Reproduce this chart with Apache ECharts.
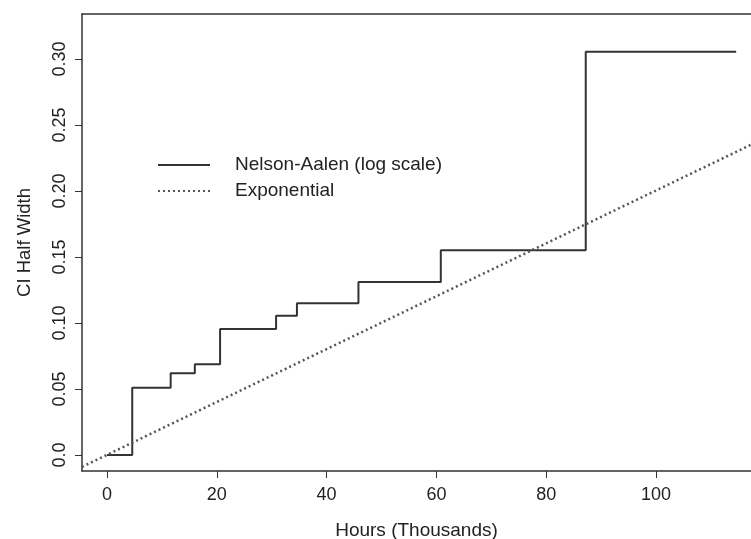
<!DOCTYPE html>
<html>
<head>
<meta charset="utf-8">
<script src="https://cdn.jsdelivr.net/npm/echarts@6/dist/echarts.min.js"></script>
<style>
  html, body { margin: 0; padding: 0; background: #fff; }
  #chart { width: 751px; height: 539px; }
</style>
</head>
<body>
<div id="chart"></div>
<script>
// 数据
const stepHours = [0, 4.6, 11.6, 16.0, 20.6, 30.8, 34.6, 45.8, 60.8, 87.2, 114.6]
const stepWidth = [0, 0.051, 0.062, 0.0687, 0.0955, 0.1055, 0.115, 0.131, 0.155, 0.3055, 0.3055]
const expHours = [-4.55, 117.3]
const expWidth = [-0.009, 0.235]
const xTicks = [0, 20, 40, 60, 80, 100]
const yTicks = [0, 0.05, 0.10, 0.15, 0.20, 0.25, 0.30]

const axisColor = '#333'
const font = 'Liberation Sans, Arial, sans-serif'

const mychart = echarts.init(document.getElementById('chart'))
const option = {
    backgroundColor: '#fff',
    animation: false,
    grid: { left: 82, top: 14, right: 0, bottom: 68, outerBoundsMode: 'none' },
    legend: {
        orient: 'vertical',
        left: 152,
        top: 150,
        itemWidth: 52,
        itemHeight: 14,
        itemGap: 6,
        itemStyle: { opacity: 0 },
        textStyle: { fontFamily: font, fontSize: 19, lineHeight: 20, color: '#222', padding: [0, 0, 0, 20] },
        data: ['Nelson-Aalen (log scale)', 'Exponential']
    },
    xAxis: [{
        type: 'value',
        min: -4.55,
        max: 117.3,
        name: 'Hours (Thousands)',
        nameLocation: 'middle',
        nameGap: 50,
        nameTextStyle: { fontFamily: font, fontSize: 19, color: '#222' },
        splitLine: { show: false },
        axisLine: { show: true, onZero: false, lineStyle: { color: axisColor, width: 1.5 } },
        axisTick: { show: true, length: 7, customValues: xTicks, lineStyle: { color: axisColor } },
        axisLabel: { customValues: xTicks, margin: 15, fontFamily: font, fontSize: 18, color: '#222' }
    }, {
        type: 'value',
        position: 'top',
        min: -4.55,
        max: 117.3,
        splitLine: { show: false },
        axisLine: { show: true, onZero: false, lineStyle: { color: axisColor, width: 1.5 } },
        axisTick: { show: false },
        axisLabel: { show: false }
    }],
    yAxis: {
        type: 'value',
        min: -0.0121,
        max: 0.334,
        name: 'CI Half Width',
        nameLocation: 'middle',
        nameGap: 48,
        nameTextStyle: { fontFamily: font, fontSize: 18.5, color: '#222' },
        splitLine: { show: false },
        axisLine: { show: true, onZero: false, lineStyle: { color: axisColor, width: 1.5 } },
        axisTick: { show: true, length: 7, customValues: yTicks, lineStyle: { color: axisColor } },
        axisLabel: {
            customValues: yTicks,
            rotate: 90,
            margin: 13,
            fontFamily: font,
            fontSize: 18,
            color: '#222',
            formatter: (v) => v === 0 ? '0.0' : v.toFixed(2)
        }
    },
    series: [{
        name: 'Nelson-Aalen (log scale)',
        type: 'line',
        step: 'end',
        symbol: 'none',
        lineStyle: { color: '#333', width: 2 },
        itemStyle: { color: '#333' },
        data: stepHours.map((h, i) => [h, stepWidth[i]])
    }, {
        name: 'Exponential',
        type: 'line',
        symbol: 'none',
        lineStyle: { color: '#555', width: 2.5, type: [2, 3] },
        itemStyle: { color: '#555' },
        data: expHours.map((h, i) => [h, expWidth[i]])
    }]
}
mychart.setOption(option)
</script>
</body>
</html>
